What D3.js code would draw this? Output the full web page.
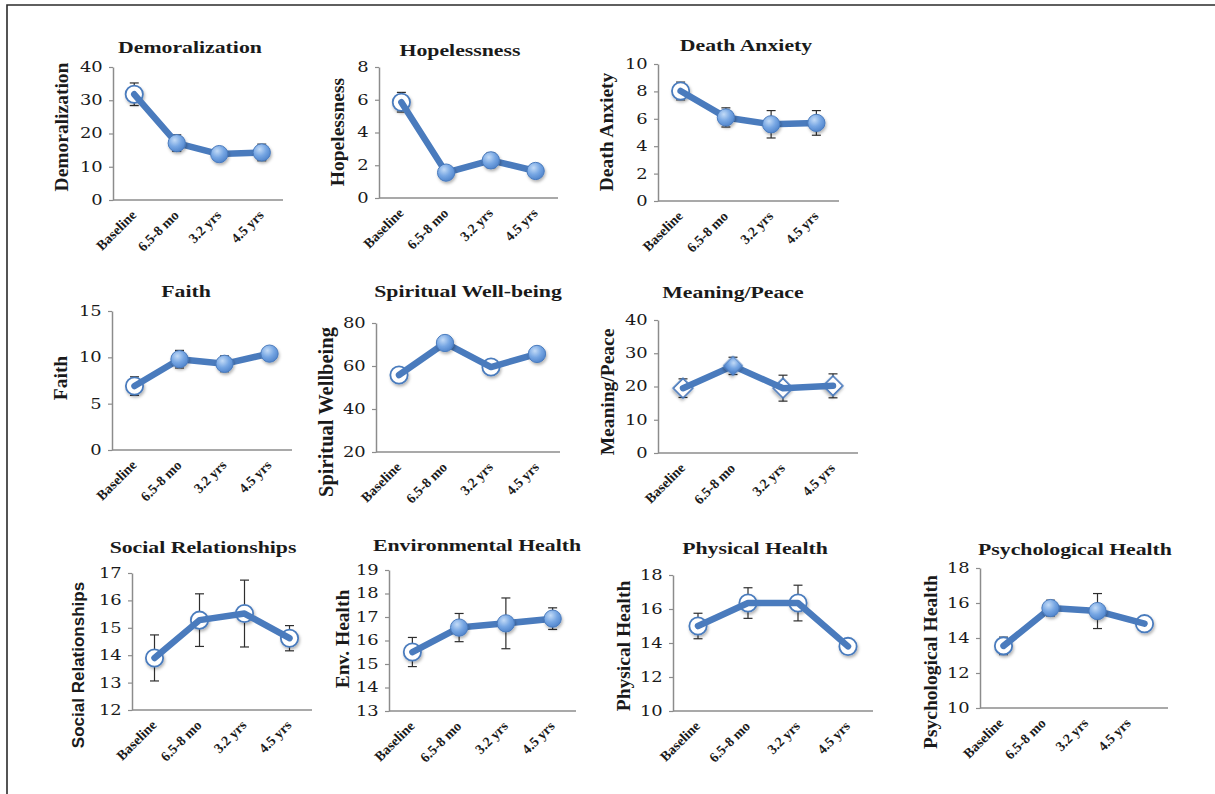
<!DOCTYPE html>
<html>
<head>
<meta charset="utf-8">
<script src="https://cdn.jsdelivr.net/npm/d3@7"></script>
<style>
body { margin: 0; background: #fff; }
svg text { fill: #1a1a1a; }
</style>
</head>
<body>
<svg id="chart" width="1215" height="794"></svg>
<script>
// time points (x categories)
var timepoints = ["Baseline", "6.5-8 mo", "3.2 yrs", "4.5 yrs"];

// means and error bars
var demoralization = [31.8, 17.1, 13.8, 14.3];
var demoralizationErr = [3.4, 2.5, 1.5, 2.5];
var demoralizationTicks = [0, 10, 20, 30, 40];

var hopelessness = [5.85, 1.55, 2.3, 1.65];
var hopelessnessErr = [0.6, 0.35, 0.45, 0.35];
var hopelessnessTicks = [0, 2, 4, 6, 8];

var deathAnxiety = [8.03, 6.1, 5.6, 5.7];
var deathAnxietyErr = [0.65, 0.7, 1.0, 0.9];
var deathAnxietyTicks = [0, 2, 4, 6, 8, 10];

var faith = [6.9, 9.8, 9.3, 10.4];
var faithErr = [1.0, 0.95, 0.85, 0.3];
var faithTicks = [0, 5, 10, 15];

var spiritual = [55.8, 70.7, 59.5, 65.6];
var spiritualErr = [1.5, 1.5, 1.5, 1.5];
var spiritualTicks = [20, 40, 60, 80];

var meaning = [19.5, 26.2, 19.5, 20.2];
var meaningErr = [2.8, 2.6, 3.9, 3.6];
var meaningTicks = [0, 10, 20, 30, 40];

var social = [13.9, 15.28, 15.52, 14.62];
var socialErr = [0.84, 0.96, 1.22, 0.46];
var socialTicks = [12, 13, 14, 15, 16, 17];

var environmental = [15.51, 16.55, 16.73, 16.93];
var environmentalErr = [0.62, 0.6, 1.08, 0.46];
var environmentalTicks = [13, 14, 15, 16, 17, 18, 19];

var physical = [15.0, 16.35, 16.35, 13.8];
var physicalErr = [0.75, 0.9, 1.05, 0.4];
var physicalTicks = [10, 12, 14, 16, 18];

var psychological = [13.55, 15.71, 15.54, 14.82];
var psychologicalErr = [0.5, 0.45, 1.0, 0.25];
var psychologicalTicks = [10, 12, 14, 16, 18];

// panel layout
var panels = [
    {title: "Demoralization", yTitle: "Demoralization", values: demoralization, errors: demoralizationErr, ticks: demoralizationTicks,
     x0: 113, x1: 283, yTop: 67, yBottom: 200, tx: 190, ty: 47, ytx: 61, yty: 127, open: [0]},
    {title: "Hopelessness", yTitle: "Hopelessness", values: hopelessness, errors: hopelessnessErr, ticks: hopelessnessTicks,
     x0: 379, x1: 558, yTop: 67, yBottom: 198, tx: 460, ty: 50, ytx: 337, yty: 132, open: [0]},
    {title: "Death Anxiety", yTitle: "Death Anxiety", values: deathAnxiety, errors: deathAnxietyErr, ticks: deathAnxietyTicks,
     x0: 658, x1: 839, yTop: 64, yBottom: 201, tx: 746, ty: 45, ytx: 606, yty: 132, open: [0]},
    {title: "Faith", yTitle: "Faith", values: faith, errors: faithErr, ticks: faithTicks,
     x0: 112, x1: 292, yTop: 311, yBottom: 450, tx: 186, ty: 291, ytx: 60, yty: 378, open: [0]},
    {title: "Spiritual Well-being", yTitle: "Spiritual Wellbeing", values: spiritual, errors: spiritualErr, ticks: spiritualTicks,
     x0: 376, x1: 560, yTop: 323, yBottom: 452, tx: 468, ty: 291, ytx: 326, yty: 412, yTitleSize: 20.5, open: [0, 2]},
    {title: "Meaning/Peace", yTitle: "Meaning/Peace", values: meaning, errors: meaningErr, ticks: meaningTicks,
     x0: 658, x1: 858, yTop: 320, yBottom: 453, tx: 733, ty: 292, ytx: 607, yty: 392, open: [0, 2, 3], diamond: true},
    {title: "Social Relationships", yTitle: "Social Relationships", values: social, errors: socialErr, ticks: socialTicks,
     x0: 132, x1: 312, yTop: 573, yBottom: 710, tx: 203, ty: 547, ytx: 78, yty: 665, open: [0, 1, 2, 3], yTitleSans: true},
    {title: "Environmental Health", yTitle: "Env. Health", values: environmental, errors: environmentalErr, ticks: environmentalTicks,
     x0: 389, x1: 576, yTop: 570, yBottom: 711, tx: 477, ty: 545, ytx: 342, yty: 639, open: [0]},
    {title: "Physical Health", yTitle: "Physical Health", values: physical, errors: physicalErr, ticks: physicalTicks,
     x0: 673, x1: 873, yTop: 575, yBottom: 711, tx: 755, ty: 548, ytx: 623, yty: 646, open: [0, 1, 2, 3]},
    {title: "Psychological Health", yTitle: "Psychological Health", values: psychological, errors: psychologicalErr, ticks: psychologicalTicks,
     x0: 980, x1: 1168, yTop: 568, yBottom: 708, tx: 1075, ty: 549, ytx: 930, yty: 662, open: [0, 3], labelRange: [980, 1150]}
];

var SX = 1.28;               // the figure is a bit stretched sideways
var LINE = "#4a7bbd";
var AXIS = "#8c8c8c";
var SERIF = "'Liberation Serif', 'Times New Roman', serif";

var svg = d3.select("#chart");

var defs = svg.append("defs");
var grad = defs.append("radialGradient").attr("id", "ball").attr("cx", "38%").attr("cy", "32%").attr("r", "70%");
grad.append("stop").attr("offset", "0%").attr("stop-color", "#c3dbf7");
grad.append("stop").attr("offset", "55%").attr("stop-color", "#76a6e3");
grad.append("stop").attr("offset", "100%").attr("stop-color", "#5185cc");
defs.append("filter").attr("id", "shadow").attr("x", "-50%").attr("y", "-50%").attr("width", "200%").attr("height", "200%")
    .append("feDropShadow").attr("dx", 1).attr("dy", 2).attr("stdDeviation", 1.5)
    .attr("flood-color", "#000").attr("flood-opacity", 0.3);

// frame
svg.append("path").attr("d", "M7,794V5H1215").attr("fill", "none")
    .attr("stroke", "#2b2b2b").attr("stroke-width", 1.6);

panels.forEach(function (p) {
    var g = svg.append("g");
    var x = d3.scaleBand().domain(timepoints).range([p.x0, p.x1]);
    var xl = p.labelRange ? d3.scaleBand().domain(timepoints).range(p.labelRange) : x;
    var y = d3.scaleLinear().domain([p.ticks[0], p.ticks[p.ticks.length - 1]]).range([p.yBottom, p.yTop]);
    var cx = function (d, i) { return x(timepoints[i]) + x.bandwidth() / 2; };

    // y axis
    var ya = g.append("g").attr("transform", "translate(" + p.x0 + ",0)")
        .call(d3.axisLeft(y).tickValues(p.ticks).tickSize(4).tickSizeOuter(0).tickPadding(4).tickFormat(d3.format("d")));
    ya.select(".domain").attr("stroke", AXIS).attr("stroke-width", 1.5);
    ya.selectAll(".tick line").attr("stroke", AXIS).attr("stroke-width", 1.2);
    ya.selectAll(".tick text")
        .attr("font-family", "'DejaVu Serif', serif").attr("font-size", 14)
        .attr("fill", "#222").attr("transform", "scale(" + SX + ",1)");

    // x axis
    var xa = g.append("g").attr("transform", "translate(0," + p.yBottom + ")")
        .call(d3.axisBottom(xl).tickSize(0).tickSizeOuter(0));
    xa.select(".domain").remove();
    xa.selectAll(".tick text")
        .attr("font-family", SERIF).attr("font-weight", "bold").attr("font-size", 14)
        .attr("text-anchor", "end").attr("x", 0).attr("y", 0).attr("dy", "0.3em")
        .attr("transform", "translate(0,13) rotate(-45)");
    g.append("line").attr("x1", p.x0).attr("x2", p.x1).attr("y1", p.yBottom).attr("y2", p.yBottom)
        .attr("stroke", AXIS).attr("stroke-width", 1.5);

    // error bars
    var eb = g.append("g").attr("stroke", "#2e2e2e").attr("stroke-width", 1.2);
    p.values.forEach(function (v, i) {
        var c = cx(v, i), top = y(v + p.errors[i]), bot = y(v - p.errors[i]);
        eb.append("line").attr("x1", c).attr("x2", c).attr("y1", top).attr("y2", bot);
        eb.append("line").attr("x1", c - 4.5).attr("x2", c + 4.5).attr("y1", top).attr("y2", top);
        eb.append("line").attr("x1", c - 4.5).attr("x2", c + 4.5).attr("y1", bot).attr("y2", bot);
    });

    var pts = p.values.map(function (v, i) { return {v: v, i: i, open: p.open.indexOf(i) >= 0}; });
    // diamonds are squares turned 45 degrees
    var shape = d3.symbol().type(p.diamond ? d3.symbolSquare : d3.symbolCircle).size(p.diamond ? 190 : 235);

    function markers(isOpen) {
        g.selectAll(null).data(pts.filter(function (d) { return d.open === isOpen; })).enter()
            .append("path")
            .attr("d", shape)
            .attr("transform", function (d) {
                return "translate(" + cx(d.v, d.i) + "," + y(d.v) + ")" + (p.diamond ? " rotate(45)" : "");
            })
            .attr("fill", isOpen ? "#fff" : "url(#ball)")
            .attr("stroke", LINE).attr("stroke-width", isOpen ? 1.8 : 1)
            .attr("filter", "url(#shadow)");
    }

    markers(true);

    g.append("path").datum(p.values)
        .attr("d", d3.line().x(cx).y(function (d) { return y(d); }))
        .attr("fill", "none").attr("stroke", LINE).attr("stroke-width", 6.5)
        .attr("stroke-linejoin", "round").attr("stroke-linecap", "round");

    markers(false);

    // titles
    g.append("text").text(p.title)
        .attr("transform", "translate(" + p.tx + "," + p.ty + ") scale(" + SX + ",1)")
        .attr("text-anchor", "middle").attr("dominant-baseline", "central")
        .attr("font-family", SERIF).attr("font-weight", "bold").attr("font-size", 17);

    g.append("text").text(p.yTitle)
        .attr("transform", "translate(" + p.ytx + "," + p.yty + ") rotate(-90)")
        .attr("text-anchor", "middle").attr("dominant-baseline", "central")
        .attr("font-family", p.yTitleSans ? "'Liberation Sans', Arial, sans-serif" : SERIF)
        .attr("font-weight", "bold").attr("font-size", p.yTitleSize || (p.yTitleSans ? 17 : 19.5));
});
</script>
</body>
</html>
